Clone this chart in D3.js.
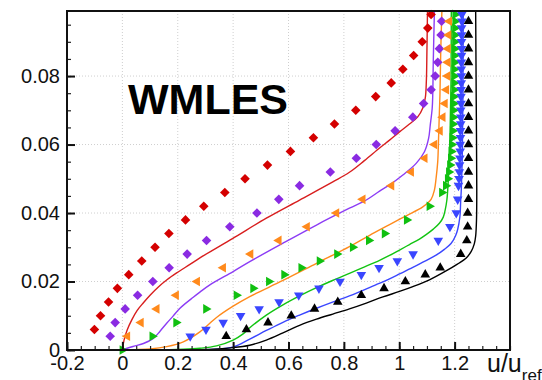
<!DOCTYPE html>
<html>
<head>
<meta charset="utf-8">
<script src="https://cdn.jsdelivr.net/npm/d3@7"></script>
<style>
  html, body { margin: 0; padding: 0; background: #fff; }
  svg { display: block; font-family: "Liberation Sans", Arial, Helvetica, sans-serif; }
</style>
</head>
<body>
<svg id="chart" width="542" height="380"></svg>
<script>
// Axis ticks
const xTicks = [-0.2, 0, 0.2, 0.4, 0.6, 0.8, 1, 1.2];
const yTicks = [0, 0.02, 0.04, 0.06, 0.08];
const xGrid = [0, 0.2, 0.4, 0.6, 0.8, 1, 1.2];
const yGrid = [0.02, 0.04, 0.06, 0.08];

// Reference measurements (markers): [u/u_ref, y]
const redPts = [[-0.101,0.006],[-0.079,0.010],[-0.050,0.014],[-0.018,0.018],[0.023,0.022],[0.070,0.026],[0.118,0.030],[0.168,0.034],[0.228,0.038],[0.294,0.042],[0.370,0.046],[0.443,0.050],[0.524,0.054],[0.607,0.058],[0.690,0.062],[0.766,0.066],[0.843,0.070],[0.915,0.074],[0.971,0.078],[1.013,0.082],[1.052,0.086],[1.083,0.090],[1.103,0.094],[1.115,0.098]];
const purplePts = [[-0.044,0.004],[-0.026,0.008],[0.010,0.012],[0.055,0.016],[0.110,0.020],[0.169,0.024],[0.234,0.028],[0.304,0.032],[0.388,0.036],[0.486,0.040],[0.565,0.044],[0.640,0.048],[0.751,0.052],[0.845,0.056],[0.917,0.060],[0.985,0.064],[1.049,0.068],[1.088,0.072],[1.115,0.076],[1.130,0.080],[1.139,0.084],[1.145,0.088],[1.151,0.092],[1.153,0.096]];
const orangePts = [[0.018,0.004],[0.067,0.008],[0.124,0.012],[0.194,0.016],[0.270,0.020],[0.364,0.024],[0.463,0.028],[0.565,0.032],[0.667,0.036],[0.773,0.040],[0.868,0.044],[0.972,0.048],[1.043,0.052],[1.092,0.056],[1.127,0.060],[1.147,0.064],[1.157,0.068],[1.165,0.072],[1.170,0.076],[1.174,0.080],[1.175,0.084],[1.176,0.088],[1.178,0.092],[1.181,0.096]];
const greenPts = [[0.000,0.000],[0.108,0.004],[0.194,0.008],[0.302,0.012],[0.412,0.016],[0.472,0.018],[0.529,0.020],[0.584,0.022],[0.646,0.024],[0.712,0.026],[0.775,0.028],[0.832,0.030],[0.890,0.032],[0.947,0.034],[1.027,0.038],[1.109,0.042],[1.154,0.046],[1.168,0.048],[1.175,0.050],[1.179,0.052],[1.183,0.054],[1.186,0.056],[1.188,0.058],[1.190,0.060],[1.192,0.062],[1.193,0.064],[1.194,0.066],[1.195,0.068],[1.196,0.070],[1.197,0.072],[1.197,0.074],[1.198,0.076],[1.198,0.078],[1.199,0.080],[1.199,0.082],[1.200,0.084],[1.200,0.086],[1.200,0.088],[1.201,0.090],[1.201,0.092],[1.201,0.094],[1.202,0.096],[1.202,0.098]];
const bluePts = [[0.245,0.004],[0.302,0.006],[0.364,0.008],[0.427,0.010],[0.494,0.012],[0.566,0.014],[0.637,0.016],[0.710,0.018],[0.786,0.020],[0.863,0.022],[0.927,0.024],[0.993,0.026],[1.050,0.028],[1.141,0.032],[1.183,0.036],[1.206,0.040],[1.211,0.044],[1.214,0.048],[1.216,0.050],[1.217,0.052],[1.218,0.054],[1.219,0.056],[1.220,0.058],[1.220,0.060],[1.221,0.062],[1.221,0.064],[1.222,0.066],[1.222,0.068],[1.222,0.070],[1.223,0.072],[1.223,0.074],[1.223,0.076],[1.224,0.078],[1.224,0.080],[1.224,0.082],[1.224,0.084],[1.225,0.086],[1.225,0.088],[1.225,0.090],[1.225,0.092],[1.225,0.094],[1.226,0.096],[1.226,0.098]];
const blackPts = [[0.375,0.004],[0.448,0.006],[0.526,0.008],[0.610,0.010],[0.694,0.012],[0.778,0.014],[0.863,0.016],[0.945,0.018],[1.022,0.020],[1.094,0.022],[1.148,0.024],[1.222,0.028],[1.244,0.032],[1.247,0.036],[1.247,0.040],[1.250,0.044],[1.250,0.048],[1.250,0.052],[1.250,0.056],[1.250,0.060],[1.250,0.064],[1.250,0.068],[1.250,0.072],[1.250,0.076],[1.250,0.080],[1.250,0.084],[1.250,0.088],[1.250,0.092],[1.250,0.096]];

// WMLES profiles (lines): [u/u_ref, y]
const redLine = [[0,0],[0.006,0.0029],[0.017,0.0058],[0.034,0.0088],[0.053,0.0115],[0.076,0.0138],[0.100,0.0160],[0.130,0.0184],[0.161,0.0205],[0.196,0.0225],[0.244,0.0250],[0.280,0.0269],[0.399,0.0326],[0.520,0.0385],[0.640,0.0438],[0.760,0.0491],[0.820,0.0519],[0.874,0.0553],[0.929,0.0590],[0.965,0.0613],[1.001,0.0637],[1.037,0.0660],[1.066,0.0680],[1.085,0.0707],[1.094,0.0736],[1.098,0.0788],[1.100,0.0876],[1.102,0.0990]];
const purpleLine = [[0,0],[0.017,0.0005],[0.046,0.0012],[0.076,0.0019],[0.112,0.0034],[0.136,0.0055],[0.160,0.0078],[0.183,0.0099],[0.208,0.0122],[0.256,0.0154],[0.280,0.0169],[0.316,0.0190],[0.400,0.0229],[0.460,0.0258],[0.580,0.0312],[0.701,0.0365],[0.820,0.0414],[0.881,0.0438],[0.929,0.0464],[0.965,0.0482],[1.013,0.0511],[1.061,0.0545],[1.091,0.0579],[1.106,0.0618],[1.112,0.0657],[1.119,0.0706],[1.121,0.0745],[1.123,0.0847],[1.127,0.0990]];
const orangeLine = [[0,0],[0.046,0.0001],[0.100,0.0003],[0.160,0.0010],[0.220,0.0024],[0.280,0.0053],[0.340,0.0095],[0.400,0.0128],[0.460,0.0156],[0.580,0.0203],[0.701,0.0253],[0.820,0.0302],[0.893,0.0335],[0.965,0.0366],[1.025,0.0392],[1.085,0.0418],[1.115,0.0440],[1.127,0.0467],[1.133,0.0501],[1.139,0.0550],[1.142,0.0618],[1.145,0.0696],[1.147,0.0745],[1.150,0.0876],[1.154,0.0990]];
const greenLine = [[0,0],[0.100,0.0000],[0.220,0.0002],[0.280,0.0005],[0.340,0.0012],[0.400,0.0029],[0.436,0.0047],[0.460,0.0065],[0.520,0.0102],[0.580,0.0132],[0.640,0.0158],[0.701,0.0182],[0.759,0.0203],[0.820,0.0224],[0.875,0.0243],[0.929,0.0262],[0.965,0.0276],[1.001,0.0292],[1.037,0.0308],[1.073,0.0324],[1.097,0.0337],[1.123,0.0353],[1.145,0.0370],[1.159,0.0388],[1.166,0.0409],[1.172,0.0438],[1.175,0.0467],[1.179,0.0526],[1.183,0.0613],[1.185,0.0701],[1.187,0.0788],[1.188,0.0990]];
const blueLine = [[0,0],[0.280,0.0001],[0.340,0.0002],[0.400,0.0009],[0.460,0.0032],[0.520,0.0057],[0.580,0.0081],[0.640,0.0102],[0.701,0.0122],[0.759,0.0140],[0.820,0.0158],[0.911,0.0189],[0.965,0.0208],[1.001,0.0222],[1.049,0.0241],[1.091,0.0259],[1.133,0.0277],[1.163,0.0294],[1.187,0.0311],[1.203,0.0333],[1.211,0.0352],[1.219,0.0389],[1.222,0.0438],[1.224,0.0467],[1.228,0.0584],[1.230,0.0745],[1.231,0.0990]];
const blackLine = [[0,0],[0.280,0.0001],[0.400,0.0007],[0.460,0.0014],[0.520,0.0029],[0.580,0.0050],[0.640,0.0072],[0.701,0.0090],[0.760,0.0105],[0.820,0.0120],[0.881,0.0137],[0.941,0.0155],[1.001,0.0171],[1.049,0.0185],[1.109,0.0205],[1.169,0.0231],[1.210,0.0251],[1.241,0.0268],[1.260,0.0288],[1.271,0.0310],[1.276,0.0333],[1.279,0.0380],[1.280,0.0467],[1.278,0.0730],[1.276,0.0990]];

const svg = d3.select("#chart");
const padL = 67, padR = 510, padT = 11, padB = 350;

const x = d3.scaleLinear().domain([-0.2, 1.4]).range([padL, padR]);
const y = d3.scaleLinear().domain([0, 0.099]).range([padB, padT]);

// Dotted grid
const grid = svg.append("g").attr("stroke", "#cfcfcf").attr("stroke-width", 1).attr("stroke-dasharray", "1,2");
grid.selectAll("line.gx").data(xGrid).join("line").attr("class", "gx")
  .attr("x1", d => x(d)).attr("x2", d => x(d)).attr("y1", padT).attr("y2", padB);
grid.selectAll("line.gy").data(yGrid).join("line").attr("class", "gy")
  .attr("x1", padL).attr("x2", padR).attr("y1", d => y(d)).attr("y2", d => y(d));

// Profiles
const line = d3.line().x(d => x(d[0])).y(d => y(d[1])).curve(d3.curveCatmullRom.alpha(0.5));
const lineSeries = [
  { data: redLine, color: "#d81e1e" },
  { data: purpleLine, color: "#8c3cf5" },
  { data: orangeLine, color: "#ff8a1c" },
  { data: greenLine, color: "#12c412" },
  { data: blueLine, color: "#3a46ff" },
  { data: blackLine, color: "#000000" }
];
const plot = svg.append("g");
lineSeries.forEach(s => {
  plot.append("path").datum(s.data).attr("d", line)
    .attr("fill", "none").attr("stroke", s.color).attr("stroke-width", 1.4);
});

// Markers
const markerSeries = [
  { data: redPts, color: "#d40000", type: d3.symbolSquare, size: 46, rot: 45 },
  { data: purplePts, color: "#8a2be2", type: d3.symbolSquare, size: 46, rot: 45 },
  { data: orangePts, color: "#ff8a1c", type: d3.symbolTriangle, size: 40, rot: -90 },
  { data: greenPts, color: "#10c010", type: d3.symbolTriangle, size: 40, rot: 90 },
  { data: bluePts, color: "#3a46ff", type: d3.symbolTriangle, size: 40, rot: 180 },
  { data: blackPts, color: "#000000", type: d3.symbolTriangle, size: 40, rot: 0 }
];
markerSeries.forEach(s => {
  const sym = d3.symbol().type(s.type).size(s.size);
  plot.append("g").selectAll("path").data(s.data).join("path")
    .attr("d", sym)
    .attr("fill", s.color)
    .attr("transform", d => `translate(${x(d[0])},${y(d[1])}) rotate(${s.rot})`);
});

// Minor ticks (inward)
svg.append("g").attr("transform", `translate(0,${padB})`)
  .call(d3.axisBottom(x).tickValues(x.ticks(32)).tickSize(-4).tickFormat(""))
  .call(g => g.select(".domain").remove())
  .call(g => g.selectAll("line").attr("stroke", "#222").attr("stroke-width", 1.2));
svg.append("g").attr("transform", `translate(${padL},0)`)
  .call(d3.axisLeft(y).tickValues(y.ticks(20)).tickSize(-4).tickFormat(""))
  .call(g => g.select(".domain").remove())
  .call(g => g.selectAll("line").attr("stroke", "#222").attr("stroke-width", 1.2));

// Major ticks and labels
const xAxis = svg.append("g").attr("transform", `translate(0,${padB})`)
  .call(d3.axisBottom(x).tickValues(xTicks).tickSize(-8).tickPadding(6)
    .tickFormat(d => String(+d.toFixed(1))));
xAxis.select(".domain").remove();
xAxis.selectAll("line").attr("stroke", "#111").attr("stroke-width", 2);
xAxis.selectAll("text").attr("font-size", 20).attr("fill", "#111")
  .attr("font-family", "'Liberation Sans', Arial, sans-serif");

const yAxis = svg.append("g").attr("transform", `translate(${padL},0)`)
  .call(d3.axisLeft(y).tickValues(yTicks).tickSize(-8).tickPadding(7)
    .tickFormat(d => d === 0 ? "0" : d.toFixed(2)));
yAxis.select(".domain").remove();
yAxis.selectAll("line").attr("stroke", "#111").attr("stroke-width", 2);
yAxis.selectAll("text").attr("font-size", 20).attr("fill", "#111")
  .attr("font-family", "'Liberation Sans', Arial, sans-serif");

// Frame
svg.append("rect").attr("x", padL).attr("y", padT)
  .attr("width", padR - padL).attr("height", padB - padT)
  .attr("fill", "none").attr("stroke", "#111").attr("stroke-width", 2);

// Title inside plot
svg.append("text").attr("x", 128).attr("y", 114)
  .attr("font-size", 43).attr("font-weight", "bold").attr("fill", "#000")
  .text("WMLES");

// Axis title
const xt = svg.append("text").attr("x", 487).attr("y", 372).attr("font-size", 25).attr("fill", "#111");
xt.append("tspan").text("u/u");
xt.append("tspan").attr("font-size", 17).attr("dy", 9).text("ref");
</script>
</body>
</html>
